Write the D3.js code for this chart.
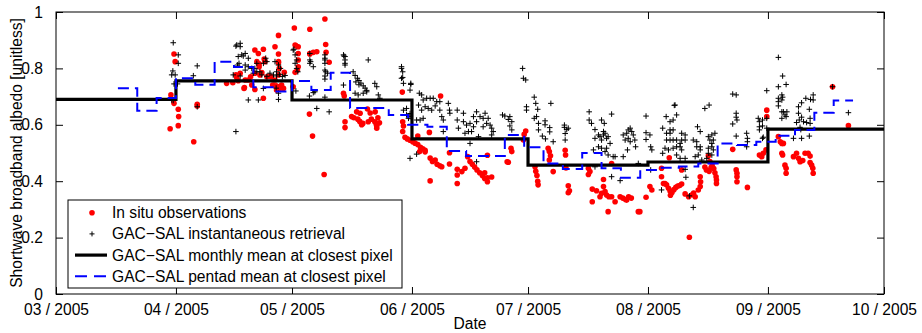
<!DOCTYPE html>
<html>
<head>
<meta charset="utf-8">
<script src="https://cdn.jsdelivr.net/npm/d3@7"></script>
<style>
  body { margin: 0; background: white; }
  svg { font-family: "Liberation Sans", Arial, sans-serif; }
</style>
</head>
<body>
<svg id="chart"></svg>
<script>
"use strict";

// day offsets are counted from 1 March 2005
var monthStarts = ["2005-03-01", "2005-04-01", "2005-05-01", "2005-06-01", "2005-07-01", "2005-08-01", "2005-09-01"];
var monthlyMean = [0.69, 0.756, 0.688, 0.55, 0.457, 0.468, 0.585];

var pentadStarts = [16, 21, 26, 31, 36, 41, 46, 51, 56, 61, 66, 71, 76, 81, 86, 91, 96, 101, 106,
  111, 116, 121, 126, 131, 136, 141, 146, 151, 156, 161, 166, 171, 176, 181, 186, 191, 196, 201];
var pentadMean = [0.73, 0.65, 0.695, 0.765, 0.742, 0.824, 0.805, 0.733, 0.718, 0.755, 0.723, 0.785, 0.66,
  0.66, 0.635, 0.60, 0.593, 0.507, 0.489, 0.489, 0.564, 0.52, 0.463, 0.443, 0.50, 0.446, 0.412, 0.44,
  0.448, 0.452, 0.463, 0.534, 0.528, 0.54, 0.561, 0.582, 0.643, 0.686];

var yTicks = [0, 0.2, 0.4, 0.6, 0.8, 1];

var insitu = [
  [29.5,0.586],[29.7,0.706],[30.5,0.851],[30.8,0.824],[30.5,0.676],[31.6,0.655],[31.7,0.629],[31.6,0.597],
  [35.6,0.54],[36.5,0.673],[36.5,0.667],
  [44.1,0.747],[45.7,0.749],[46.5,0.777],[46.7,0.768],[47.1,0.756],[47.6,0.783],[48.6,0.729],[48.7,0.732],
  [48.9,0.759],[49.7,0.759],[50.3,0.77],[50.6,0.741],[51.4,0.725],[51.4,0.865],[51.4,0.783],[52.3,0.853],
  [51.9,0.824],[52.5,0.806],[52.5,0.816],[53.2,0.785],[53.6,0.868],[53.8,0.833],[54,0.824],[53.6,0.694],
  [52.7,0.777],[54.5,0.77],[55.1,0.773],[55.6,0.77],[56,0.741],[56.6,0.759],[56.6,0.877],[56.9,0.738],
  [57,0.723],[57.5,0.917],[57.5,0.851],[57.5,0.824],[57.7,0.8],[57.5,0.777],[57.5,0.735],[57.9,0.729],
  [58.3,0.741],[58.8,0.729],[59,0.786],[57.5,0.82],
  [61.3,0.735],[61.6,0.943],[61.8,0.883],[62.6,0.877],[62.6,0.853],[62.6,0.83],[62.6,0.806],[61.8,0.786],
  [62.4,0.794],[62,0.88],[65.6,0.939],[65.6,0.853],[66.5,0.857],[67.4,0.859],[65.6,0.851],[69.5,0.975],
  [69.7,0.885],[69.8,0.857],[70.6,0.822],[65.5,0.638],[66.3,0.56],[69.3,0.424],
  [74.3,0.712],[74.5,0.702],[74.7,0.611],[74.7,0.59],[76.4,0.629],[77,0.625],[77.7,0.646],[78,0.62],
  [78.6,0.641],[78.5,0.612],[79.3,0.605],[79,0.6],[80.5,0.656],[80.7,0.611],[81.2,0.642],[81.5,0.62],
  [82.4,0.611],[82.9,0.596],[83.6,0.607],[82.9,0.588],[82.5,0.646],[83.2,0.625],[82.8,0.6],
  [89.5,0.716],[89.6,0.611],[89.8,0.596],[89.6,0.576],[90.2,0.556],[90.8,0.55],[91.5,0.545],[92.2,0.54],
  [92.8,0.535],[93.5,0.56],[93.5,0.53],[94.2,0.52],[94.8,0.515],[95.4,0.504],[95.4,0.51],[94,0.505],
  [96.5,0.573],[96.7,0.482],[97.3,0.47],[98,0.475],[98.5,0.46],[99.2,0.455],[99.7,0.451],[96.7,0.401],
  [99.4,0.702],[101.7,0.501],[101.7,0.461],[103.7,0.442],[103.7,0.422],[103.7,0.392],[104.9,0.434],
  [105.7,0.446],[106.4,0.487],[107,0.47],[107.6,0.46],[108.2,0.45],[108.8,0.44],[109.5,0.43],[110.2,0.42],
  [110.8,0.41],[111.5,0.412],[112.6,0.415],[111.5,0.398],[110.8,0.43],[111.5,0.492],[116.6,0.469],
  [116.9,0.467],[117.6,0.517],[117.8,0.505],[120.8,0.546],[121,0.566],[121.4,0.578],[123.8,0.451],
  [124,0.435],[124.3,0.42],[124.5,0.4],[124.6,0.387],[127.2,0.517],[127.5,0.505],[127.8,0.49],[127.5,0.475],
  [128.5,0.434],[131.6,0.51],[131.7,0.493],[131.8,0.447],[132.4,0.384],[132.4,0.359],[132.7,0.366],
  [137.6,0.446],[138,0.434],[137.6,0.424],[138.6,0.372],[139.7,0.366],[141,0.357],[141.5,0.381],
  [141.9,0.363],[142.3,0.351],[142.9,0.345],[143.6,0.345],[144.5,0.327],[140.6,0.345],[138.6,0.327],
  [142.7,0.292],[141.5,0.406],[143.6,0.463],[145.8,0.345],[146.5,0.34],[147.2,0.335],[148,0.345],
  [148.7,0.34],[147.5,0.333],[150.5,0.292],
  [150.9,0.292],[152.5,0.343],[153.5,0.381],[154,0.369],[156.5,0.446],[156.5,0.416],[157,0.392],
  [157.4,0.392],[157.8,0.387],[158.3,0.375],[158.7,0.365],[159.2,0.36],[159.7,0.37],[160.2,0.378],
  [160.7,0.383],[161.2,0.385],[161.7,0.39],[158.8,0.35],[158.5,0.483],[161.7,0.44],[162.6,0.355],
  [163.5,0.345],[164.4,0.352],[165.2,0.345],[164.8,0.358],[166,0.369],[166.5,0.381],[166.6,0.398],
  [166.5,0.416],[163.7,0.201],[167.7,0.45],[168.1,0.44],[168.6,0.49],[168.8,0.435],[169.3,0.448],
  [169.6,0.455],[170,0.445],[170.3,0.43],[169,0.47],[170.6,0.416],[170.7,0.404],[170.7,0.392],
  [174.9,0.513],[175.8,0.44],[176,0.428],[176,0.416],[176,0.398],[178.7,0.378],
  [181.8,0.493],[182.4,0.487],[182.8,0.499],[183.5,0.511],[183.7,0.629],[183.7,0.652],[186.7,0.558],
  [187.2,0.54],[187.6,0.534],[188,0.534],[187.6,0.499],[187.8,0.493],[188.4,0.457],[188.7,0.446],
  [188.7,0.428],[190.6,0.487],[191.4,0.499],[191.9,0.481],[192.3,0.469],[193,0.473],[193.6,0.499],
  [194.4,0.499],[194.9,0.489],[194.9,0.466],[195.3,0.457],[195.6,0.446],[195.7,0.428],[200.7,0.735],
  [204.8,0.597]
];

var retrieval = [
  [29.9,0.777],[30.8,0.777],[30.3,0.891],[31.6,0.848],[31.6,0.818],[30.2,0.791],[30.5,0.745],[31.4,0.745],
  [29.9,0.688],[30.3,0.686],[36.5,0.809],[35.5,0.774],[36.5,0.664],
  [45.8,0.777],[46.5,0.879],[46.7,0.883],[47.6,0.889],[47.6,0.877],[46.5,0.576],[47.1,0.842],[46.9,0.812],
  [47.6,0.773],[48,0.848],[48.9,0.853],[47.3,0.818],[49.7,0.836],[48.9,0.812],[48.4,0.844],[49.7,0.806],
  [50.6,0.8],[48.9,0.794],[51,0.783],[51.9,0.788],[52.7,0.788],[51.4,0.8],[51.9,0.818],[53.6,0.818],
  [54.5,0.824],[54.2,0.836],[53.2,0.777],[54.5,0.772],[55.3,0.783],[56.2,0.777],[57,0.773],[57.8,0.779],
  [58.5,0.771],[59.2,0.775],[56.6,0.824],[57.5,0.812],[58,0.8],[57,0.788],[49.7,0.688],[52.3,0.688],
  [57.5,0.69],[53.6,0.729],[57.5,0.712],[56.9,0.73],
  [61.3,0.865],[61.8,0.848],[62.2,0.83],[61.8,0.818],[62.2,0.8],[62.5,0.788],[61.5,0.868],[62,0.72],
  [65.6,0.853],[65.8,0.824],[66.5,0.806],[65.6,0.83],[65.6,0.818],[66.5,0.714],[66.9,0.717],[67.4,0.658],
  [65.5,0.702],[69.5,0.848],[69.5,0.836],[69.5,0.818],[69.7,0.788],[70.2,0.783],[69.5,0.83],[69.5,0.794],
  [69.5,0.773],[69.5,0.762],[69.5,0.698],[70.6,0.646],[74.3,0.848],[74.7,0.842],[74.7,0.83],[74.7,0.818],
  [74.4,0.844],[74.7,0.812],[74.3,0.741],[80.7,0.83],
  [76.8,0.788],[77.3,0.775],[77.9,0.765],[78.3,0.757],[78.8,0.748],[79.4,0.738],[79.9,0.73],[80.3,0.722],
  [78.3,0.742],[77.5,0.752],[77.3,0.712],[78.1,0.706],[79.4,0.712],[80.3,0.717],[82.4,0.747],[82.9,0.735],
  [83.3,0.706],[83.7,0.694],
  [89.3,0.806],[89.6,0.788],[89.3,0.765],[89.8,0.747],[89.3,0.8],[89.6,0.768],[91.7,0.747],[91.5,0.723],
  [91.7,0.743],[89.8,0.652],[90.6,0.635],[91.5,0.64],[91.5,0.481],[93.2,0.496],
  [93.9,0.712],[94.5,0.706],[94.9,0.688],[95.8,0.694],[96.7,0.694],[97.5,0.694],[98.4,0.682],[99.2,0.682],
  [95.4,0.664],[96.2,0.658],[97.1,0.652],[98,0.667],[99.2,0.652],[99.7,0.629],[100.1,0.617],[101.4,0.676],
  [101.7,0.652],[101.8,0.641],[93.7,0.67],[94.5,0.652],[90.6,0.658],[91.5,0.629],[91.1,0.623],
  [93.2,0.617],[94.1,0.617],[94.9,0.623],
  [103.7,0.652],[103.7,0.617],[104,0.588],[105.3,0.641],[105.3,0.611],[106.1,0.599],[107,0.605],
  [107.9,0.629],[107.9,0.593],[108.7,0.646],[108.7,0.611],[109.6,0.629],[110.4,0.623],[110.4,0.593],
  [111.3,0.605],[111.7,0.623],[112.2,0.599],[112.6,0.588],[110.9,0.641],[116,0.631],[116.9,0.619],
  [108.7,0.469],[105.7,0.57],[106.6,0.576],[107.4,0.576],[109.2,0.558],[112.6,0.564],[113,0.576],
  [107,0.534],[100.1,0.576],[115.4,0.635],[117.3,0.629],[117.8,0.611],[117.3,0.596],[117.8,0.582],
  [120.6,0.8],[120.8,0.765],[121.4,0.759],[121.6,0.664],[121.6,0.652],[123.6,0.698],[124,0.676],
  [124.5,0.655],[124.2,0.629],[123.6,0.623],[124.7,0.605],[124.7,0.582],[127.9,0.676],[126.4,0.614],
  [126.4,0.6],[127.6,0.59],[127.6,0.575],[125.7,0.56],[126.5,0.55],[128.5,0.54],
  [131.4,0.599],[131.4,0.591],[132,0.583],[131.6,0.569],[132.4,0.588],[131.6,0.546],
  [137.8,0.646],[137.8,0.617],[138.4,0.605],[141,0.617],[141.7,0.605],[139.3,0.583],[143.6,0.638],
  [139.3,0.552],[140.2,0.564],[140.6,0.558],[141,0.546],[141.5,0.564],[141.9,0.57],[142.3,0.552],
  [142.7,0.558],[140.2,0.522],[141,0.517],[141.9,0.505],[142.3,0.517],[143.2,0.534],[142.7,0.493],
  [139.3,0.451],[144.5,0.487],[143.6,0.416],[145.8,0.402],[138.9,0.511],[141.5,0.576],[144,0.487],
  [146.6,0.487],
  [146.6,0.564],[147.5,0.57],[147.9,0.582],[148.4,0.588],[148.8,0.576],[147.9,0.552],[148.4,0.54],
  [147.7,0.511],[149.2,0.564],[149.6,0.546],[149.8,0.522],[147.1,0.546],[150.5,0.463],
  [152.5,0.631],[152.5,0.572],[152.5,0.548],[153.5,0.564],[153.7,0.522],[154,0.511],[156.8,0.499],
  [153.7,0.44],[156.5,0.369],
  [157.7,0.629],[158.7,0.611],[159.5,0.617],[160.4,0.635],[160,0.67],[156.8,0.588],[158.7,0.582],
  [159.5,0.582],[157.8,0.57],[158.7,0.57],[157.8,0.546],[158.7,0.546],[159.5,0.546],[160.4,0.546],
  [157.4,0.517],[158.3,0.511],[159.5,0.517],[160.4,0.522],[161.3,0.522],[161.7,0.546],[161.7,0.57],
  [162.6,0.564],[162.6,0.546],[161.3,0.534],[161.7,0.511],[160.4,0.493],[161.3,0.481],[162.6,0.481],
  [164.7,0.546],[165.6,0.54],[165.6,0.522],[166.5,0.522],[166,0.493],[165.2,0.487],[166.5,0.511],
  [165.8,0.593],[166.5,0.576],[167.7,0.658],[168.8,0.67],
  [168.6,0.558],[169,0.546],[169.5,0.564],[169.9,0.546],[170.3,0.57],[169.5,0.534],[169.5,0.522],
  [168.6,0.517],[169.9,0.511],[169.5,0.493],[168.2,0.481],[166.9,0.475],[168.6,0.499],
  [174.9,0.709],[175.8,0.706],[175.8,0.641],[175.8,0.627],[176,0.617],[174.9,0.603],[175.8,0.56],
  [178.5,0.57],[178.7,0.552],[178.7,0.54],[178.5,0.522],[181.5,0.623],[181.8,0.611],[181.8,0.593],
  [181.8,0.582],[162.6,0.442],[162.8,0.414],[163.7,0.348],[164.7,0.307],[159.8,0.669],
  [183.7,0.721],[183.7,0.623],[182.8,0.556],[183.7,0.588],[182.6,0.617],[182.6,0.596],[182.6,0.552],
  [186.7,0.839],[187.8,0.773],[188.7,0.743],[186.7,0.735],
  [186.7,0.694],[186.7,0.682],[186.7,0.667],[187.6,0.706],[187.8,0.698],[187.6,0.688],[187.6,0.646],
  [188,0.646],[188.4,0.635],[187.6,0.623],[188.7,0.629],[188.9,0.646],
  [191.9,0.664],[191.9,0.641],[192.1,0.617],[192.7,0.627],[191.4,0.608],[192.3,0.591],[193.2,0.611],
  [194,0.608],[194.9,0.623],[194.9,0.605],[194.7,0.655],[195,0.69],[195.7,0.706],[195.7,0.688],
  [193.8,0.694],[192.7,0.678],[192.5,0.583],[194.7,0.56],[192.7,0.552],[190.6,0.552],
  [204.8,0.643],[200.7,0.735]
];

var legendLabels = ["In situ observations", "GAC\u2212SAL instantaneous retrieval",
  "GAC\u2212SAL monthly mean at closest pixel", "GAC\u2212SAL pentad mean at closest pixel"];

var width = 922, height = 333;
var margin = {left: 56, right: 38, top: 12, bottom: 39};
var fontSize = '15.6px';

var svg = d3.select('#chart').attr('width', width).attr('height', height);

var t0 = Date.UTC(2005, 2, 1);
function dayToDate(d) { return new Date(t0 + d * 864e5); }

var x = d3.scaleUtc()
  .domain([new Date(t0), new Date(Date.UTC(2005, 9, 1))])
  .range([margin.left, width - margin.right]);
var y = d3.scaleLinear()
  .domain([0, 1])
  .range([height - margin.bottom, margin.top]);

var x0 = margin.left, x1 = width - margin.right, y0 = height - margin.bottom, y1 = margin.top;
var tickLen = 7;

// axes box and inward ticks
svg.append('g')
  .attr('transform', 'translate(0,' + y0 + ')')
  .call(d3.axisBottom(x).ticks(d3.utcMonth.every(1)).tickFormat(d3.utcFormat('%m / %Y'))
    .tickSizeInner(-tickLen).tickSizeOuter(0).tickPadding(10))
  .call(function(g){ g.select('.domain').remove(); });
svg.append('g')
  .attr('transform', 'translate(0,' + y1 + ')')
  .call(d3.axisTop(x).ticks(d3.utcMonth.every(1)).tickFormat('').tickSizeInner(-tickLen).tickSizeOuter(0))
  .call(function(g){ g.select('.domain').remove(); });
svg.append('g')
  .attr('transform', 'translate(' + x0 + ',0)')
  .call(d3.axisLeft(y).tickValues(yTicks).tickFormat(d3.format('~g'))
    .tickSizeInner(-tickLen).tickSizeOuter(0).tickPadding(13))
  .call(function(g){ g.select('.domain').remove(); });
svg.append('g')
  .attr('transform', 'translate(' + x1 + ',0)')
  .call(d3.axisRight(y).tickValues(yTicks).tickFormat('').tickSizeInner(-tickLen).tickSizeOuter(0))
  .call(function(g){ g.select('.domain').remove(); });

svg.selectAll('.tick text')
  .attr('fill', '#000')
  .style('font-size', fontSize)
  .style('font-family', '"Liberation Sans", Arial, sans-serif');
svg.selectAll('.tick line').attr('stroke', '#000');

var plot = svg.append('g');

// in situ dots
plot.selectAll('.insitu').data(insitu).enter().append('circle')
  .attr('class', 'insitu')
  .attr('cx', function(d){ return x(dayToDate(d[0])); })
  .attr('cy', function(d){ return y(d[1]); })
  .attr('r', 2.8)
  .attr('fill', '#ff0000');

// instantaneous retrieval crosses
plot.selectAll('.retr').data(retrieval).enter().append('path')
  .attr('class', 'retr')
  .attr('d', function(d){
    var cx = x(dayToDate(d[0])), cy = y(d[1]), s = 2.8;
    return 'M' + (cx - s) + ',' + cy + 'H' + (cx + s) + 'M' + cx + ',' + (cy - s) + 'V' + (cy + s);
  })
  .attr('stroke', '#000')
  .attr('stroke-width', 1)
  .attr('fill', 'none');

// monthly mean step line
var monthly = monthStarts.map(function(m, i){ return [new Date(m + 'T00:00:00Z'), monthlyMean[i]]; });
monthly.push([x.domain()[1], monthlyMean[monthlyMean.length - 1]]);
var step = d3.line()
  .x(function(d){ return x(d[0]); })
  .y(function(d){ return y(d[1]); })
  .curve(d3.curveStepAfter);
plot.append('path')
  .datum(monthly)
  .attr('d', step)
  .attr('fill', 'none')
  .attr('stroke', '#000')
  .attr('stroke-width', 3.2);

// pentad mean step line
var pentad = pentadStarts.map(function(p, i){ return [dayToDate(p), pentadMean[i]]; });
pentad.push([dayToDate(pentadStarts[pentadStarts.length - 1] + 5), pentadMean[pentadMean.length - 1]]);
plot.append('path')
  .datum(pentad)
  .attr('d', step)
  .attr('fill', 'none')
  .attr('stroke', '#0000ff')
  .attr('stroke-width', 2)
  .attr('stroke-dasharray', '11,6');

// box
svg.append('rect')
  .attr('x', x0).attr('y', y1)
  .attr('width', x1 - x0).attr('height', y0 - y1)
  .attr('fill', 'none')
  .attr('stroke', '#000')
  .attr('stroke-width', 1);

// axis labels
svg.append('text')
  .attr('x', (x0 + x1) / 2)
  .attr('y', 329)
  .attr('text-anchor', 'middle')
  .style('font-size', fontSize)
  .text('Date');
svg.append('text')
  .attr('transform', 'translate(22,' + ((y0 + y1) / 2) + ') rotate(-90)')
  .attr('text-anchor', 'middle')
  .style('font-size', fontSize)
  .text('Shortwave broadband albedo [unitless]');

// legend
var legend = svg.append('g').attr('transform', 'translate(68,200)');
legend.append('rect')
  .attr('width', 334).attr('height', 88)
  .attr('fill', 'white')
  .attr('stroke', '#000')
  .attr('stroke-width', 1);
var rows = legend.selectAll('.row').data(legendLabels).enter().append('g')
  .attr('class', 'row')
  .attr('transform', function(d, i){ return 'translate(0,' + (12.7 + i * 21.2) + ')'; });
rows.append('text')
  .attr('x', 44)
  .attr('dy', '0.35em')
  .style('font-size', fontSize)
  .text(function(d){ return d; });
legend.select('.row:nth-child(2)').append('circle')
  .attr('cx', 24).attr('r', 2.8).attr('fill', '#ff0000');
legend.select('.row:nth-child(3)').append('path')
  .attr('d', 'M21.5,0H26.5M24,-2.5V2.5')
  .attr('stroke', '#000').attr('stroke-width', 1);
legend.select('.row:nth-child(4)').append('line')
  .attr('x1', 7).attr('x2', 39)
  .attr('stroke', '#000').attr('stroke-width', 3.2);
legend.select('.row:nth-child(5)').append('line')
  .attr('x1', 7).attr('x2', 39)
  .attr('stroke', '#0000ff').attr('stroke-width', 2)
  .attr('stroke-dasharray', '12,7');
</script>
</body>
</html>
